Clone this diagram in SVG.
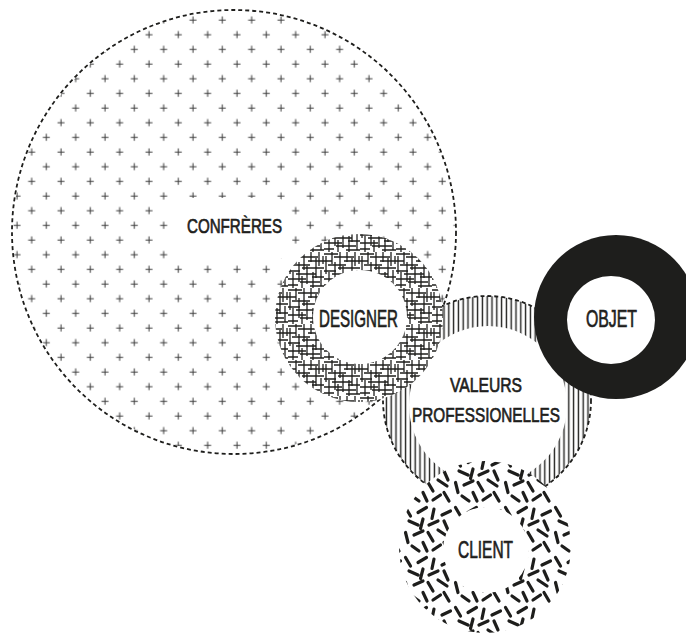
<svg xmlns="http://www.w3.org/2000/svg" width="686" height="633" viewBox="0 0 686 633">
<style>
.lbl{font-family:"Liberation Sans",Arial,sans-serif;fill:#1e1e1c;stroke:#1e1e1c;stroke-width:0.7;}
.dash{fill:none;stroke:#1e1e1c;stroke-width:1.8;stroke-dasharray:4 3;}
.hx{stroke:#1e1e1c;stroke-width:1.3;fill:none;}
.rd{stroke:#1e1e1c;stroke-width:3.2;stroke-linecap:round;fill:none;}
</style>
<defs>
<pattern id="plus" patternUnits="userSpaceOnUse" x="98" y="101" width="29.33" height="29.33">
<path d="M3.5 7H10.5M7 3.5V10.5M18.17 21.67H25.17M21.67 18.17V25.17" stroke="#3a3a3a" stroke-width="1"/>
</pattern>
<pattern id="vert" patternUnits="userSpaceOnUse" x="0" y="0" width="4.8" height="20">
<line x1="2.4" y1="0" x2="2.4" y2="20" stroke="#1e1e1c" stroke-width="1.4"/>
</pattern>
<pattern id="cross" patternUnits="userSpaceOnUse" x="0" y="0" width="36" height="36">
<path class="hx" d="M0 2H14M10 5H30M0 9H8M20 9H36M4 13H22M14 16H36M0 19H12M8 22H28M24 25H36M0 27H18M12 30H32M0 33H10M22 34H36M2 4V22M5 20V36M8 0V12M11 10V30M14 24V36M16 0V18M19 14V32M23 0V10M25 20V36M28 6V26M31 0V14M33 18V34M35 4V12"/>
</pattern>
<pattern id="dsh" patternUnits="userSpaceOnUse" x="3" y="5" width="50" height="50">
<path class="rd" d="M2.5 2.5L7.5 11M15 7.5L23.5 2.5M31 4L29 13.5M39 10L47.5 6M6 16L15 20M20 14L17.5 23.5M26 20L35 16M41 16L45 25M2.5 27.5L5 37.5M11 30L20 26M25 27.5L30 36M35 25L44 31M9 41L16 46M20 37.5L24 46M30 45L37.5 40M41 37.5L46 46"/>
</pattern>
<clipPath id="bigClip"><circle cx="234" cy="232" r="221"/></clipPath>
</defs>

<g id="confreres">
<rect x="0" y="0" width="470" height="460" fill="url(#plus)" clip-path="url(#bigClip)"/>
<rect x="172" y="198" width="120" height="62" rx="18" fill="#fff"/>
<circle class="dash" cx="234" cy="232" r="222"/>
<text class="lbl" x="187" y="233" font-size="21" textLength="95" lengthAdjust="spacingAndGlyphs">CONFRÈRES</text>
</g>

<g id="valeurs">
<circle cx="487" cy="400" r="104" fill="#fff"/>
<circle cx="487" cy="400" r="104" fill="url(#vert)"/>
<circle cx="488" cy="405" r="79" fill="#fff"/>
<circle class="dash" cx="487" cy="400" r="104"/>
<text class="lbl" x="450" y="392" font-size="21" textLength="72" lengthAdjust="spacingAndGlyphs">VALEURS</text>
<text class="lbl" x="412" y="422" font-size="21" textLength="148" lengthAdjust="spacingAndGlyphs">PROFESSIONELLES</text>
</g>

<g id="designer">
<circle cx="359" cy="318" r="84" fill="#fff"/>
<circle cx="359" cy="318" r="84" fill="url(#cross)"/>
<circle cx="360" cy="317" r="47" fill="#fff"/>
<text class="lbl" x="319" y="327" font-size="24" textLength="79" lengthAdjust="spacingAndGlyphs">DESIGNER</text>
</g>

<g id="objet">
<circle cx="616" cy="317" r="82" fill="#1e1e1c"/>
<circle cx="611" cy="320" r="44" fill="#fff"/>
<text class="lbl" x="586" y="327" font-size="23.5" textLength="51" lengthAdjust="spacingAndGlyphs">OBJET</text>
</g>

<g id="client">
<circle cx="485" cy="547" r="86" fill="#fff"/>
<circle cx="485" cy="547" r="86" fill="url(#dsh)"/>
<circle cx="486" cy="550" r="43" fill="#fff"/>
<text class="lbl" x="458" y="558" font-size="24" textLength="55" lengthAdjust="spacingAndGlyphs">CLIENT</text>
</g>

<g id="connectors"/>
</svg>
